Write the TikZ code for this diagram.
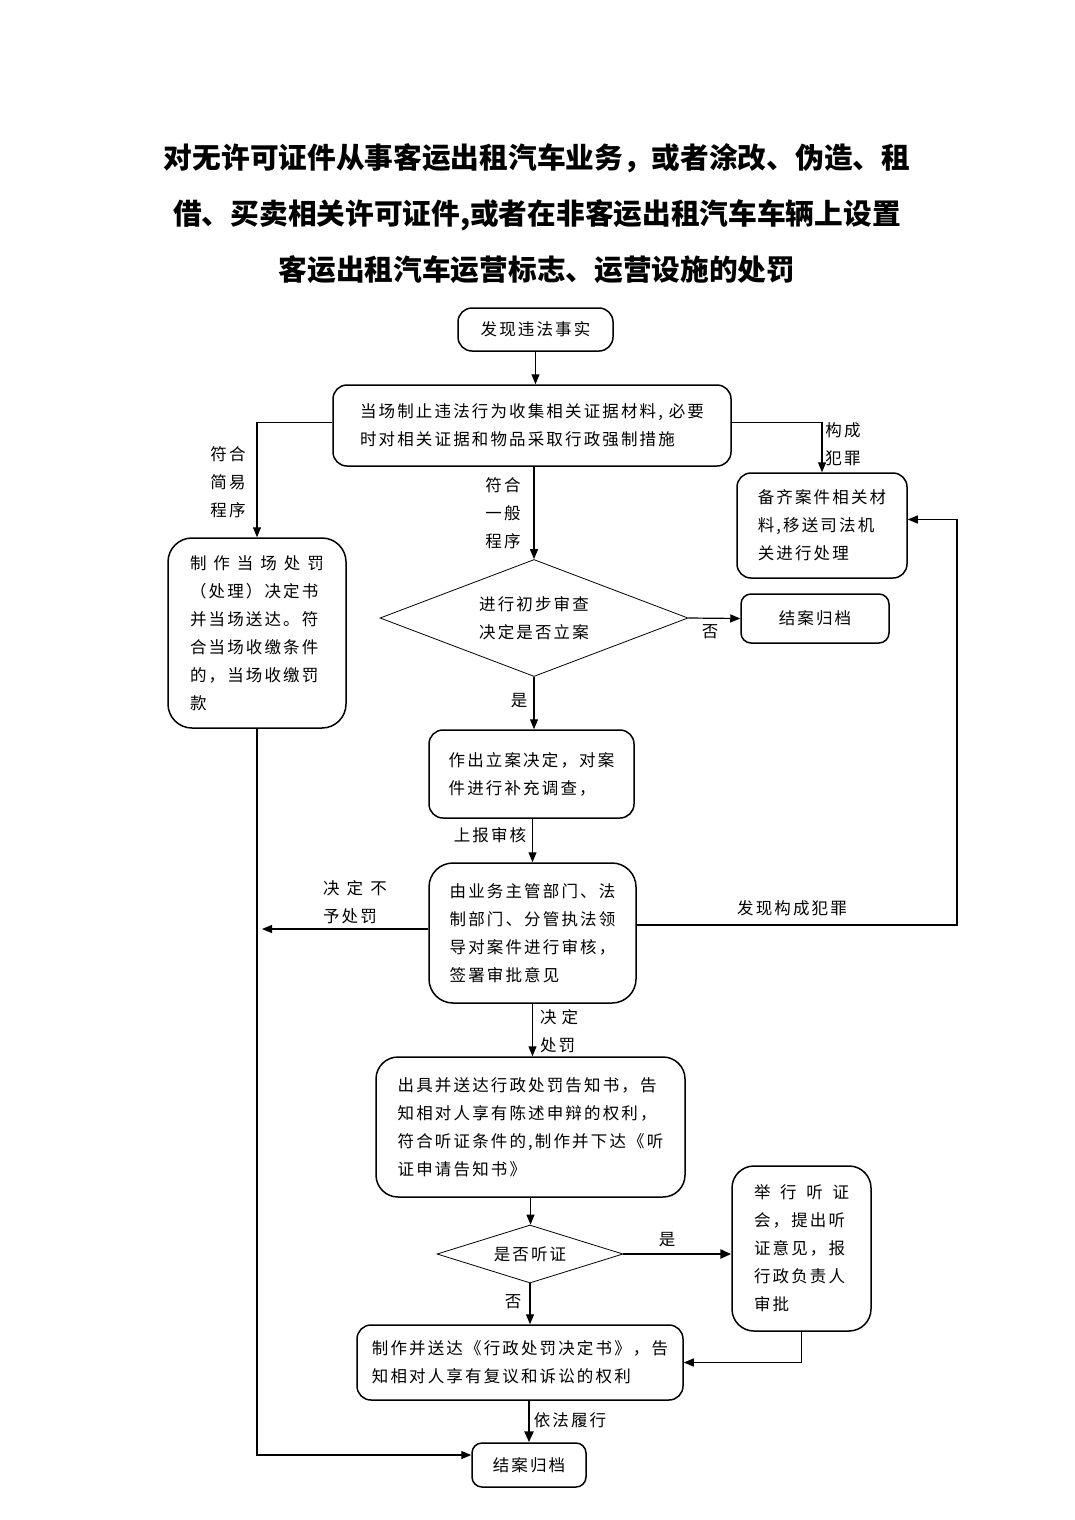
\documentclass[tikz,border=0pt]{standalone}
\usepackage{fontspec}
\usetikzlibrary{shapes.geometric,arrows.meta}
\newfontfamily\cjk{Noto Sans CJK SC}[LetterSpace=13]
\newfontfamily\cjkhead{Noto Sans CJK SC}
\newcommand{\spreadline}[2]{\makebox[#1][s]{#2}}

\begin{document}
\begin{tikzpicture}[x=1pt,y=-1pt,
  box/.style={draw,line width=1.5pt,rounded corners=14pt,align=left,inner sep=0pt},
  choice/.style={draw,diamond,line width=0.8pt,inner sep=0pt,align=center},
  lbl/.style={align=left,inner sep=0pt},
  arrow/.style={line width=1.2pt,-{Triangle[length=10pt,width=8pt]}},
  heavy/.style={line width=2.6pt,-{Triangle[length=11pt,width=9pt]}},
  font=\cjk\fontsize{16.5}{28}\selectfont]
\useasboundingbox (0,0) rectangle (1075,1520);
\node [font=\cjkhead\bfseries\fontsize{28.7}{56}\selectfont, align=center] (title) at (537,214) {对无许可证件从事客运出租汽车业务，或者涂改、伪造、租\\借、买卖相关许可证件,或者在非客运出租汽车车辆上设置\\客运出租汽车运营标志、运营设施的处罚};
\node [box, minimum width=155pt, minimum height=43pt] (find) at (535.5,329.5) {发现违法事实};
\node [box, minimum width=398pt, minimum height=81pt] (stop) at (532,425.5) {当场制止违法行为收集相关证据材料, 必要\\时对相关证据和物品采取行政强制措施};
\node [box, minimum width=170pt, minimum height=105pt] (transfer) at (822,525.5) {备齐案件相关材\\料,移送司法机\\关进行处理};
\node [box, minimum width=178pt, minimum height=190pt, rounded corners=24pt] (simple) at (257,633) {\spreadline{134pt}{制\hfill 作\hfill 当\hfill 场\hfill 处\hfill 罚}\\（处理）决定书\\并当场送达。符\\合当场收缴条件\\的，当场收缴罚\\款};
\node [choice, aspect=2.6, minimum width=308pt, minimum height=117pt] (check) at (534,618) {进行初步审查\\决定是否立案};
\node [box, minimum width=148pt, minimum height=49pt, rounded corners=10pt] (close1) at (815,618.5) {结案归档};
\node [box, minimum width=205pt, minimum height=88pt] (file) at (531.5,774) {作出立案决定，对案\\件进行补充调查，};
\node [box, minimum width=207pt, minimum height=140pt, rounded corners=24pt] (review) at (532.5,933) {由业务主管部门、法\\制部门、分管执法领\\导对案件进行审核，\\签署审批意见};
\node [box, minimum width=309pt, minimum height=140pt, rounded corners=22pt] (notice) at (530.5,1127) {出具并送达行政处罚告知书，告\\知相对人享有陈述申辩的权利，\\符合听证条件的,制作并下达《听\\证申请告知书》};
\node [box, minimum width=139pt, minimum height=165pt, rounded corners=22pt] (hearing) at (801.5,1248.5) {\spreadline{95pt}{举\hfill 行\hfill 听\hfill 证}\\会，提出听\\证意见，报\\行政负责人\\审批};
\node [choice, aspect=3.2, minimum width=186pt, minimum height=58pt] (ask) at (530,1254) {是否听证};
\node [box, minimum width=326pt, minimum height=75pt] (decide) at (520,1362.5) {制作并送达《行政处罚决定书》，告\\知相对人享有复议和诉讼的权利};
\node [box, minimum width=114pt, minimum height=44pt, rounded corners=10pt] (close2) at (529,1465) {结案归档};
\node [lbl, align=center] (l1) at (228,482) {符合\\简易\\程序};
\node [lbl, align=center] (l2) at (843,444) {构成\\犯罪};
\node [lbl, align=center] (l3) at (503,513) {符合\\一般\\程序};
\node [lbl] (l4) at (710,632) {否};
\node [lbl] (l5) at (519,701) {是};
\node [lbl] (l6) at (490,835) {上报审核};
\node [lbl] (l7) at (355,902) {\spreadline{64pt}{决\hfill 定\hfill 不}\\予处罚};
\node [lbl] (l8) at (792,908) {发现构成犯罪};
\node [lbl] (l9) at (559,1031) {\spreadline{38pt}{决\hfill 定}\\处罚};
\node [lbl] (l10) at (667,1240) {是};
\node [lbl] (l11) at (513,1302) {否};
\node [lbl] (l12) at (570,1420) {依法履行};
\coordinate (nopen) at (262,929);
\coordinate (back) at (957,925);
\draw [arrow] (find.south) -- (find.south |- stop.north);
\draw [arrow] ([yshift=3pt]stop.west) -| (simple.north);
\draw [arrow] ([yshift=3pt]stop.east) -| (transfer.north);
\draw [arrow] (stop.south -| check.north) -- (check.north);
\draw [arrow] (check.east) -- (close1.west);
\draw [arrow] (check.south) -- (check.south |- file.north);
\draw [arrow] (file.south -| review.north) -- (review.north);
\draw [arrow] (review.west |- nopen) -- (nopen);
\draw [arrow] (simple.south) |- ([yshift=10pt]close2.west);
\draw [arrow] (review.east |- back) -- (back) |- ([yshift=6pt]transfer.east);
\draw [arrow] (review.south) -- (review.south |- notice.north);
\draw [arrow] (notice.south) -- (notice.south |- ask.north);
\draw [heavy] (ask.east) -- (ask.east -| hearing.west);
\draw [arrow] (ask.south) -- (ask.south |- decide.north);
\draw [arrow] (hearing.south) |- (decide.east);
\draw [heavy] (close2.north |- decide.south) -- (close2.north);
\end{tikzpicture}
\end{document}
